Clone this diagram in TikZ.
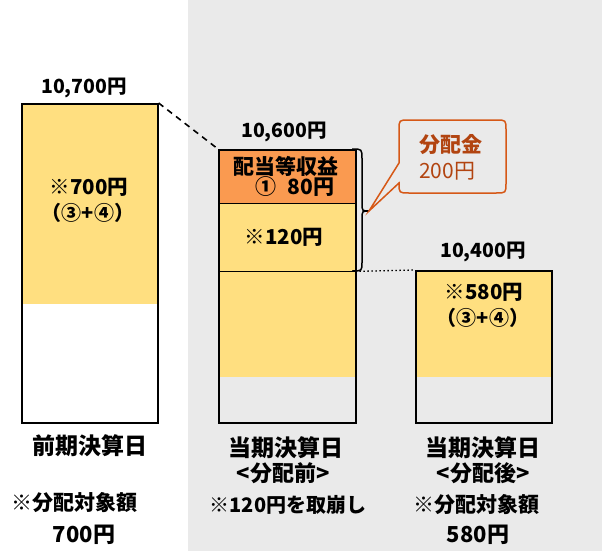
\documentclass[tikz,border=0pt]{standalone}
\usepackage{fontspec}
\setmainfont{Noto Sans CJK JP}
\definecolor{bggray}{RGB}{234,234,234}
\definecolor{baryellow}{RGB}{255,223,128}
\definecolor{barorange}{RGB}{250,154,80}
\definecolor{callline}{RGB}{214,88,22}
\definecolor{calltext}{RGB}{178,68,16}
\tikzset{
  barbox/.style={draw=black, line width=1.6pt, minimum width=137pt, inner sep=0pt, anchor=north west},
  seg/.style={inner sep=0pt, minimum width=137pt, anchor=north west},
  lbl/.style={font=\bfseries\fontsize{#1}{#1}\selectfont, inner sep=0pt},
  lbl/.default=20.5,
}
\begin{document}
\begin{tikzpicture}[x=1pt,y=-1pt]
\useasboundingbox (0,0) rectangle (602,551);
\fill[white] (0,0) rectangle (188,551);
\fill[bggray] (188,0) rectangle (602,551);

% bar 1
\fill[baryellow] (21,103) rectangle (157,304);
\node[barbox, minimum width=136pt, minimum height=319pt] (bar1) at (21,103) {};
% bar 2
\node[seg, fill=barorange, minimum height=54pt] (seg1) at (218,149) {};
\node[seg, fill=baryellow, minimum height=68pt] (seg2) at (218,203) {};
\fill[baryellow] (218,271) rectangle (355,377);
\node[barbox, minimum height=273pt] (bar2) at (218,149) {};
\draw[line width=1.6pt] (seg1.south west) -- (seg1.south east);
\draw[line width=1.6pt] (seg2.south west) -- (seg2.south east);
% bar 3
\fill[baryellow] (415,270) rectangle (551,377);
\node[barbox, minimum width=136pt, minimum height=152pt] (bar3) at (415,270) {};

% connectors
\draw[line width=1.6pt, dash pattern=on 6pt off 5pt] (bar1.north east) -- (bar2.north west);
\draw[line width=1.3pt, dash pattern=on 1.5pt off 2.5pt] (seg2.south east) -- (bar3.north west);

% brace
\coordinate (tip) at (369,211);
\draw[line width=1.5pt] (352,149) .. controls (362,149) .. (362,159) -- (362,203)
  .. controls (362,211) .. (tip) .. controls (362,211) .. (362,219) -- (362,262)
  .. controls (362,271) .. (352,271);

% callout
\draw[line width=1.5pt, draw=callline, fill=bggray, line join=miter]
  (tip) -- (399,163) -- (399,130) .. controls (399,120) .. (409,120) -- (496,120)
  .. controls (506,120) .. (506,130) -- (506,183) .. controls (506,193) .. (496,193)
  -- (409,193) .. controls (399,193) .. (399,183) -- cycle;
\node[lbl=21, text=calltext, anchor=west] (c1) at (419,145) {分配金};
\node[font=\fontsize{21}{21}\selectfont, inner sep=0pt, text=calltext, anchor=west] (c2) at (419,171) {200円};

% top values
\node[lbl=19.5] (v1) at (84,88) {10,700円};
\node[lbl=19.5] (v2) at (284,132) {10,600円};
\node[lbl=19.5] (v3) at (483,252) {10,400円};

% inside texts
\node[lbl] (t1a) at (89,187) {※700円};
\node[lbl=20] (t1b) at (88,213) {（③+④）};
\node[lbl=21] (t2a) at (286,166) {配当等収益};
\node[lbl=21] (t2b) at (295,187) {①\hspace{11pt}80円};
\node[lbl] (t2c) at (284,237) {※120円};
\node[lbl] (t3a) at (484,292) {※580円};
\node[lbl=20] (t3b) at (483,318) {（③+④）};

% bottom labels
\node[lbl=23] (b1) at (89.5,446) {前期決算日};
\node[lbl=23] (b2) at (286,448) {当期決算日};
\node[lbl=22] (b2b) at (283,473) {<分配前>};
\node[lbl=23] (b3) at (483,448) {当期決算日};
\node[lbl=22] (b3b) at (483,473) {<分配後>};
\node[lbl=21] (n1) at (75,503) {※分配対象額};
\node[lbl=22] (n1b) at (84,535) {700円};
\node[lbl=20] (n2) at (288,505) {※120円を取崩し};
\node[lbl=21] (n3) at (476,505) {※分配対象額};
\node[lbl=22] (n3b) at (478,535) {580円};
\end{tikzpicture}
\end{document}
